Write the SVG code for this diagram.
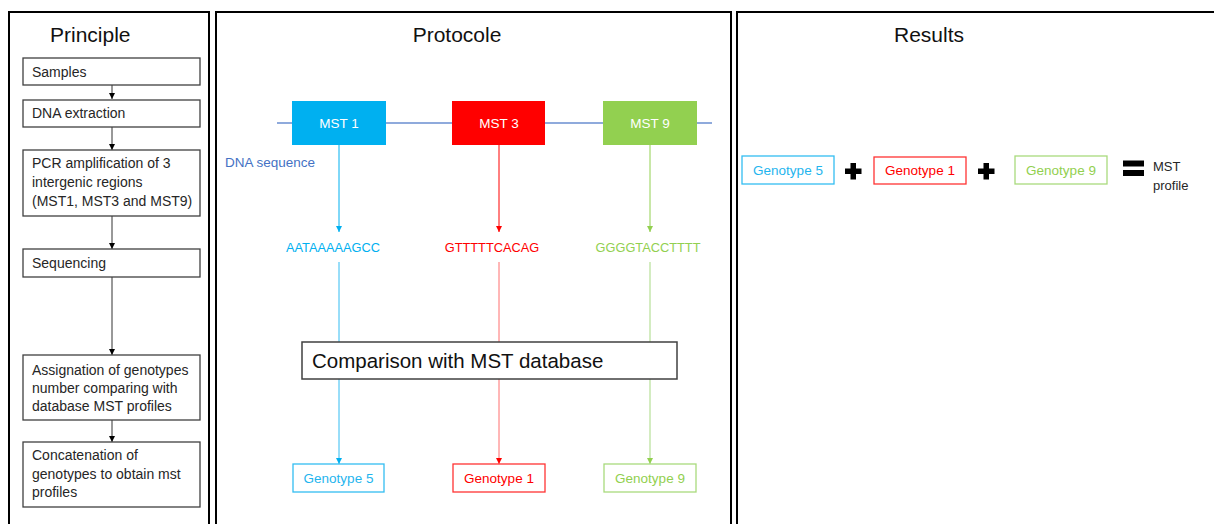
<svg xmlns="http://www.w3.org/2000/svg" width="1214" height="524" viewBox="0 0 1214 524">
<defs>
<style>
text{font-family:"Liberation Sans",Arial,sans-serif}
.panel{fill:#fff;stroke:#000;stroke-width:2}
.pbox{fill:#fff;stroke:#404040;stroke-width:1.3}
.ptxt{font-size:14px;fill:#262626}
.title{font-size:21px;fill:#111}
.mst{font-size:13.5px;fill:#fff;text-anchor:middle}
.seq{font-size:12.8px;text-anchor:middle}
.gt{font-size:13.5px;text-anchor:middle}
.k{stroke:#333;stroke-width:1}
</style>
<marker id="ab" markerWidth="6" markerHeight="6" refX="6" refY="3" orient="auto" markerUnits="userSpaceOnUse"><path d="M0,0 L6,3 L0,6 Z" fill="#00B0F0"/></marker>
<marker id="ar" markerWidth="6" markerHeight="6" refX="6" refY="3" orient="auto" markerUnits="userSpaceOnUse"><path d="M0,0 L6,3 L0,6 Z" fill="#FF0000"/></marker>
<marker id="ag" markerWidth="6" markerHeight="6" refX="6" refY="3" orient="auto" markerUnits="userSpaceOnUse"><path d="M0,0 L6,3 L0,6 Z" fill="#92D050"/></marker>
<marker id="abk" markerWidth="6" markerHeight="6" refX="6" refY="3" orient="auto" markerUnits="userSpaceOnUse"><path d="M0,0 L6,3 L0,6 Z" fill="#000"/></marker>
</defs>
<rect width="1214" height="524" fill="#fff"/>

<g id="panels">
<rect class="panel" x="9" y="12" width="200" height="530"/>
<rect class="panel" x="216" y="12" width="515" height="530"/>
<rect class="panel" x="737" y="12" width="500" height="530"/>
</g>

<g id="titles">
<text class="title" x="50" y="42">Principle</text>
<text class="title" x="457" y="42" text-anchor="middle">Protocole</text>
<text class="title" x="929" y="42" text-anchor="middle">Results</text>
</g>

<g id="connectors">
<line class="k" x1="112" y1="85" x2="112" y2="99" marker-end="url(#abk)"/>
<line class="k" x1="112" y1="127" x2="112" y2="150" marker-end="url(#abk)"/>
<line class="k" x1="112" y1="216" x2="112" y2="249" marker-end="url(#abk)"/>
<line class="k" x1="112" y1="277" x2="112" y2="355" marker-end="url(#abk)"/>
<line class="k" x1="112" y1="420" x2="112" y2="442" marker-end="url(#abk)"/>
<line x1="277" y1="123" x2="712" y2="123" stroke="#8FAADC" stroke-width="2"/>
<line x1="339" y1="145" x2="339" y2="232" stroke="#00B0F0" stroke-width="1" marker-end="url(#ab)"/>
<line x1="499" y1="145" x2="499" y2="232" stroke="#FF0000" stroke-width="1" marker-end="url(#ar)"/>
<line x1="650" y1="145" x2="650" y2="232" stroke="#92D050" stroke-width="1" marker-end="url(#ag)"/>
<line x1="339" y1="262" x2="339" y2="464" stroke="#33BCF2" stroke-width="1" marker-end="url(#ab)"/>
<line x1="499" y1="262" x2="499" y2="464" stroke="#FF6F6F" stroke-width="1" marker-end="url(#ar)"/>
<line x1="650" y1="262" x2="650" y2="464" stroke="#A8D983" stroke-width="1" marker-end="url(#ag)"/>
</g>

<g id="samples"><rect class="pbox" x="23" y="58" width="177" height="27"/><text class="ptxt" x="32" y="77">Samples</text></g>
<g id="dna-extraction"><rect class="pbox" x="23" y="100" width="177" height="27"/><text class="ptxt" x="32" y="118">DNA extraction</text></g>
<g id="pcr"><rect class="pbox" x="23" y="150" width="177" height="66"/>
<text class="ptxt" x="32" y="168">PCR amplification of 3</text>
<text class="ptxt" x="32" y="187">intergenic regions</text>
<text class="ptxt" x="32" y="206">(MST1, MST3 and MST9)</text></g>
<g id="sequencing"><rect class="pbox" x="23" y="249" width="177" height="28"/><text class="ptxt" x="32" y="268">Sequencing</text></g>
<g id="assignation"><rect class="pbox" x="23" y="355" width="177" height="65"/>
<text class="ptxt" x="32" y="375">Assignation of genotypes</text>
<text class="ptxt" x="32" y="393">number comparing with</text>
<text class="ptxt" x="32" y="411">database MST profiles</text></g>
<g id="concatenation"><rect class="pbox" x="23" y="442" width="177" height="65"/>
<text class="ptxt" x="32" y="460">Concatenation of</text>
<text class="ptxt" x="32" y="479">genotypes to obtain mst</text>
<text class="ptxt" x="32" y="497">profiles</text></g>

<g id="mst1"><rect x="292" y="101" width="94" height="44" fill="#00B0F0"/><text class="mst" x="339" y="128">MST 1</text></g>
<g id="mst3"><rect x="452" y="101" width="93" height="44" fill="#FF0000"/><text class="mst" x="499" y="128">MST 3</text></g>
<g id="mst9"><rect x="603" y="101" width="94" height="44" fill="#92D050"/><text class="mst" x="650" y="128">MST 9</text></g>
<g id="dna-sequence-label"><text x="225" y="167" font-size="13.5" fill="#4472C4">DNA sequence</text></g>

<g id="seq1"><text class="seq" x="333" y="252" fill="#00B0F0">AATAAAAAGCC</text></g>
<g id="seq3"><text class="seq" x="492" y="252" fill="#FF0000">GTTTTTCACAG</text></g>
<g id="seq9"><text class="seq" x="648" y="252" fill="#92D050">GGGGTACCTTTT</text></g>

<g id="comparison"><rect x="302" y="342" width="375" height="37" fill="#fff" stroke="#404040" stroke-width="1.5"/>
<text x="312" y="368" font-size="20.5" fill="#111">Comparison with MST database</text></g>

<g id="genotype5"><rect x="293" y="464" width="91" height="28" fill="#fff" stroke="#33BEF2" stroke-width="1.3"/><text class="gt" x="338.5" y="483" fill="#1FB5EE">Genotype 5</text></g>
<g id="genotype1"><rect x="453" y="464" width="92" height="28" fill="#fff" stroke="#FF3333" stroke-width="1.3"/><text class="gt" x="499" y="483" fill="#FF0000">Genotype 1</text></g>
<g id="genotype9"><rect x="604" y="464" width="92" height="28" fill="#fff" stroke="#A9DA7D" stroke-width="1.3"/><text class="gt" x="650" y="483" fill="#92D050">Genotype 9</text></g>

<g id="r-genotype5"><rect x="742" y="156" width="92" height="28" fill="#fff" stroke="#33BEF2" stroke-width="1.3"/><text class="gt" x="788" y="175" fill="#1FB5EE">Genotype 5</text></g>
<g id="plus1"><path d="M850.5,163 h5.5 v5.5 h5.5 v5.5 h-5.5 v5.5 h-5.5 v-5.5 h-5.5 v-5.5 h5.5 z" fill="#000"/></g>
<g id="r-genotype1"><rect x="874" y="157" width="92" height="27" fill="#fff" stroke="#FF3333" stroke-width="1.3"/><text class="gt" x="920" y="175" fill="#FF0000">Genotype 1</text></g>
<g id="plus2"><path d="M983.5,163 h5.5 v5.5 h5.5 v5.5 h-5.5 v5.5 h-5.5 v-5.5 h-5.5 v-5.5 h5.5 z" fill="#000"/></g>
<g id="r-genotype9"><rect x="1015" y="156" width="92" height="28" fill="#fff" stroke="#A9DA7D" stroke-width="1.3"/><text class="gt" x="1061" y="175" fill="#92D050">Genotype 9</text></g>
<g id="equals"><rect x="1123" y="160.5" width="21" height="6" fill="#000"/><rect x="1123" y="170" width="21" height="6" fill="#000"/></g>
<g id="mst-profile"><text x="1153" y="171" font-size="13" fill="#262626">MST</text><text x="1153" y="190" font-size="13" fill="#262626">profile</text></g>
</svg>
